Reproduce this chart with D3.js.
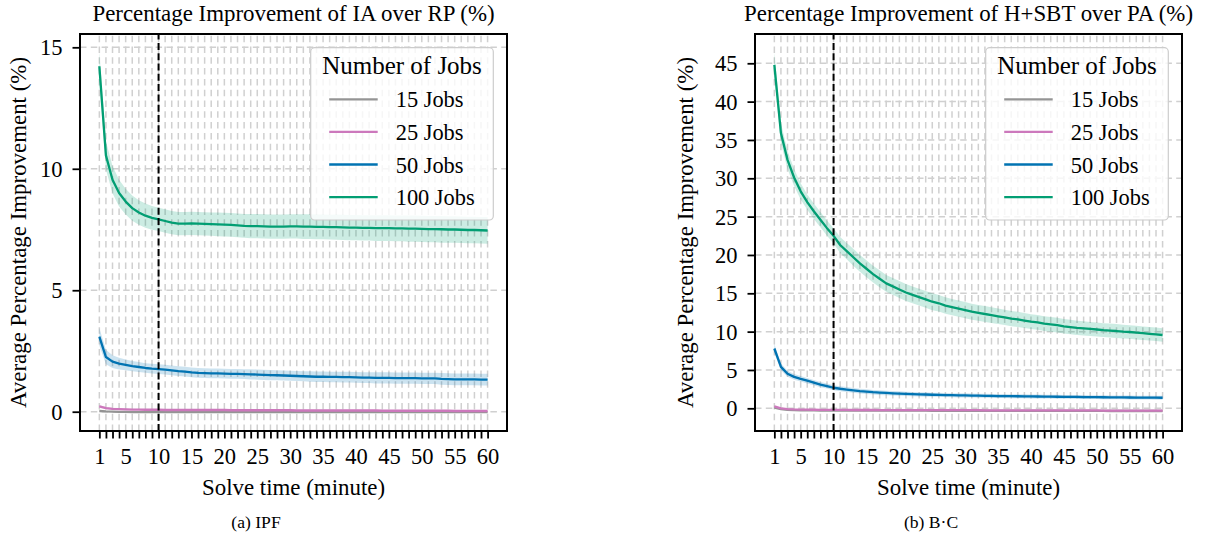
<!DOCTYPE html>
<html>
<head>
<meta charset="utf-8">
<script src="https://cdn.jsdelivr.net/npm/d3@7"></script>
<style>
  html, body { margin: 0; padding: 0; background: #ffffff; }
  svg { display: block; }
  text { font-family: "Liberation Serif", "Times New Roman", Times, serif; fill: #000; }
</style>
</head>
<body>
<svg id="chart" width="1211" height="539"></svg>
<script>
// ---------------- data ----------------
const minutes = [1,2,3,4,5,6,7,8,9,10,11,12,13,14,15,16,17,18,19,20,
  21,22,23,24,25,26,27,28,29,30,31,32,33,34,35,36,37,38,39,40,
  41,42,43,44,45,46,47,48,49,50,51,52,53,54,55,56,57,58,59,60];
const xTickLabels = ["1","5","10","15","20","25","30","35","40","45","50","55","60"];
const xTickValues = [1,5,10,15,20,25,30,35,40,45,50,55,60];
const yTicksIPF = [0,5,10,15];
const yTicksBC = [0,5,10,15,20,25,30,35,40,45];
const jobLabels = ["15 Jobs","25 Jobs","50 Jobs","100 Jobs"];
const cutoffMinute = 10;

// (a) IPF: IA over RP
const ipf15 = [0.03,0.01,0.00,-0.01,-0.01,-0.02,-0.02,-0.02,-0.02,-0.02,
  -0.02,-0.02,-0.02,-0.02,-0.02,-0.02,-0.02,-0.02,-0.02,-0.02,
  -0.02,-0.02,-0.02,-0.02,-0.02,-0.02,-0.02,-0.02,-0.02,-0.02,
  -0.02,-0.02,-0.02,-0.02,-0.02,-0.02,-0.02,-0.02,-0.02,-0.02,
  -0.02,-0.02,-0.02,-0.02,-0.02,-0.02,-0.02,-0.02,-0.02,-0.02,
  -0.02,-0.02,-0.02,-0.02,-0.02,-0.02,-0.02,-0.02,-0.02,-0.02];
const ipf15Band = [0.03,0.02,0.02,0.02,0.02,0.02,0.02,0.02,0.02,0.02,
  0.02,0.02,0.02,0.02,0.02,0.02,0.02,0.02,0.02,0.02,
  0.02,0.02,0.02,0.02,0.02,0.02,0.02,0.02,0.02,0.02,
  0.02,0.02,0.02,0.02,0.02,0.02,0.02,0.02,0.02,0.02,
  0.02,0.02,0.02,0.02,0.02,0.02,0.02,0.02,0.02,0.02,
  0.02,0.02,0.02,0.02,0.02,0.02,0.02,0.02,0.02,0.02];
const ipf25 = [0.22,0.15,0.12,0.11,0.10,0.09,0.09,0.08,0.08,0.08,
  0.07,0.07,0.07,0.07,0.07,0.07,0.07,0.07,0.07,0.07,
  0.06,0.06,0.06,0.06,0.06,0.06,0.06,0.06,0.06,0.06,
  0.05,0.05,0.05,0.05,0.05,0.05,0.05,0.05,0.05,0.05,
  0.05,0.05,0.05,0.04,0.04,0.04,0.04,0.04,0.04,0.04,
  0.04,0.04,0.04,0.04,0.03,0.03,0.03,0.03,0.03,0.03];
const ipf25Band = [0.06,0.05,0.04,0.04,0.04,0.03,0.03,0.03,0.03,0.03,
  0.03,0.03,0.03,0.03,0.03,0.03,0.03,0.03,0.03,0.03,
  0.03,0.03,0.03,0.03,0.03,0.03,0.03,0.03,0.03,0.03,
  0.03,0.03,0.03,0.03,0.03,0.03,0.03,0.03,0.03,0.03,
  0.03,0.03,0.03,0.03,0.03,0.03,0.03,0.03,0.03,0.03,
  0.03,0.03,0.03,0.03,0.03,0.03,0.03,0.03,0.03,0.03];
const ipf50 = [3.09,2.25,2.06,1.98,1.93,1.88,1.84,1.80,1.77,1.75,
  1.73,1.70,1.67,1.65,1.62,1.60,1.59,1.58,1.58,1.57,
  1.56,1.56,1.55,1.54,1.53,1.52,1.51,1.50,1.49,1.48,
  1.47,1.46,1.45,1.44,1.44,1.43,1.43,1.42,1.42,1.41,
  1.40,1.40,1.39,1.39,1.39,1.38,1.38,1.38,1.38,1.37,
  1.37,1.37,1.35,1.34,1.33,1.33,1.33,1.33,1.32,1.32];
const ipf50Band = [0.36,0.30,0.26,0.24,0.22,0.21,0.21,0.20,0.20,0.20,
  0.20,0.20,0.20,0.20,0.20,0.20,0.20,0.20,0.20,0.20,
  0.20,0.20,0.20,0.21,0.21,0.21,0.21,0.21,0.21,0.21,
  0.21,0.21,0.22,0.22,0.22,0.22,0.22,0.22,0.22,0.22,
  0.22,0.22,0.23,0.23,0.23,0.23,0.23,0.23,0.23,0.23,
  0.23,0.23,0.24,0.24,0.24,0.24,0.24,0.24,0.24,0.24];
const ipf100 = [14.22,10.55,9.55,9.00,8.65,8.38,8.20,8.07,7.98,7.92,
  7.85,7.78,7.74,7.74,7.75,7.74,7.73,7.72,7.71,7.70,
  7.69,7.67,7.65,7.64,7.64,7.63,7.62,7.62,7.62,7.63,
  7.63,7.62,7.62,7.61,7.61,7.60,7.60,7.59,7.58,7.58,
  7.57,7.57,7.56,7.56,7.56,7.55,7.55,7.54,7.54,7.53,
  7.52,7.52,7.51,7.50,7.50,7.49,7.48,7.48,7.47,7.46];
const ipf100Band = [0.60,0.58,0.56,0.55,0.53,0.52,0.50,0.50,0.49,0.48,
  0.48,0.48,0.48,0.48,0.48,0.48,0.48,0.48,0.49,0.49,
  0.49,0.49,0.49,0.50,0.50,0.50,0.50,0.50,0.50,0.50,
  0.50,0.51,0.51,0.51,0.51,0.51,0.52,0.52,0.52,0.52,
  0.52,0.52,0.53,0.53,0.53,0.53,0.53,0.54,0.54,0.54,
  0.54,0.54,0.55,0.55,0.55,0.55,0.55,0.55,0.55,0.55];

// (b) B-C: H+SBT over PA
const bc15 = [0.10,-0.10,-0.20,-0.25,-0.27,-0.28,-0.28,-0.29,-0.29,-0.30,
  -0.30,-0.30,-0.30,-0.30,-0.30,-0.30,-0.31,-0.31,-0.31,-0.31,
  -0.31,-0.31,-0.31,-0.31,-0.32,-0.32,-0.32,-0.32,-0.32,-0.32,
  -0.32,-0.32,-0.32,-0.33,-0.33,-0.33,-0.33,-0.33,-0.33,-0.33,
  -0.33,-0.33,-0.34,-0.34,-0.34,-0.34,-0.34,-0.34,-0.34,-0.34,
  -0.34,-0.35,-0.35,-0.35,-0.35,-0.35,-0.35,-0.35,-0.35,-0.35];
const bc15Band = [0.10,0.08,0.07,0.06,0.06,0.06,0.06,0.06,0.06,0.06,
  0.06,0.06,0.06,0.06,0.06,0.06,0.06,0.06,0.06,0.06,
  0.06,0.06,0.06,0.06,0.06,0.06,0.06,0.06,0.06,0.06,
  0.06,0.06,0.06,0.06,0.06,0.06,0.06,0.06,0.06,0.06,
  0.06,0.06,0.06,0.06,0.06,0.06,0.06,0.06,0.06,0.06,
  0.06,0.06,0.06,0.06,0.06,0.06,0.06,0.06,0.06,0.06];
const bc25 = [0.25,0.00,-0.10,-0.15,-0.17,-0.18,-0.19,-0.20,-0.20,-0.21,
  -0.21,-0.21,-0.22,-0.22,-0.22,-0.22,-0.23,-0.23,-0.23,-0.23,
  -0.23,-0.24,-0.24,-0.24,-0.24,-0.24,-0.25,-0.25,-0.25,-0.25,
  -0.25,-0.25,-0.26,-0.26,-0.26,-0.26,-0.26,-0.26,-0.27,-0.27,
  -0.27,-0.27,-0.27,-0.27,-0.28,-0.28,-0.28,-0.28,-0.28,-0.28,
  -0.29,-0.29,-0.29,-0.29,-0.29,-0.29,-0.30,-0.30,-0.30,-0.30];
const bc25Band = [0.12,0.09,0.08,0.07,0.07,0.07,0.07,0.07,0.07,0.07,
  0.07,0.07,0.07,0.07,0.07,0.07,0.07,0.07,0.07,0.07,
  0.07,0.07,0.07,0.07,0.07,0.07,0.07,0.07,0.07,0.07,
  0.07,0.07,0.07,0.07,0.07,0.07,0.07,0.07,0.07,0.07,
  0.07,0.07,0.07,0.07,0.07,0.07,0.07,0.07,0.07,0.07,
  0.07,0.07,0.07,0.07,0.07,0.07,0.07,0.07,0.07,0.07];
const bc50 = [7.80,5.40,4.50,4.10,3.85,3.60,3.35,3.10,2.90,2.68,
  2.55,2.45,2.35,2.25,2.18,2.10,2.05,2.00,1.96,1.92,
  1.89,1.86,1.83,1.80,1.77,1.75,1.73,1.71,1.69,1.68,
  1.66,1.65,1.63,1.62,1.60,1.59,1.58,1.57,1.56,1.55,
  1.54,1.53,1.52,1.51,1.50,1.49,1.48,1.47,1.46,1.45,
  1.44,1.43,1.42,1.42,1.41,1.40,1.39,1.39,1.38,1.38];
const bc50Band = [0.60,0.45,0.40,0.37,0.35,0.35,0.34,0.34,0.33,0.33,
  0.32,0.32,0.31,0.31,0.30,0.30,0.30,0.29,0.29,0.29,
  0.28,0.28,0.28,0.28,0.27,0.27,0.27,0.27,0.27,0.27,
  0.26,0.26,0.26,0.26,0.26,0.26,0.26,0.26,0.26,0.26,
  0.25,0.25,0.25,0.25,0.25,0.25,0.25,0.25,0.25,0.25,
  0.25,0.25,0.25,0.25,0.25,0.25,0.25,0.25,0.25,0.25];
const bc100 = [44.80,35.90,32.40,30.10,28.30,26.90,25.70,24.60,23.50,22.50,
  21.30,20.50,19.70,18.90,18.20,17.50,16.90,16.30,15.90,15.50,
  15.10,14.80,14.50,14.20,13.90,13.70,13.40,13.20,13.00,12.80,
  12.60,12.45,12.30,12.15,12.00,11.85,11.70,11.60,11.45,11.30,
  11.20,11.05,10.95,10.85,10.70,10.60,10.50,10.42,10.35,10.28,
  10.20,10.14,10.08,10.00,9.95,9.88,9.80,9.72,9.65,9.56];
const bc100Band = [1.60,1.30,1.20,1.10,1.05,1.00,1.00,1.00,1.00,1.00,
  1.05,1.05,1.10,1.10,1.10,1.10,1.10,1.10,1.10,1.10,
  1.10,1.10,1.10,1.10,1.10,1.08,1.08,1.06,1.06,1.05,
  1.05,1.04,1.03,1.02,1.01,1.00,1.00,0.99,0.98,0.97,
  0.97,0.96,0.95,0.95,0.94,0.94,0.93,0.93,0.92,0.92,
  0.91,0.91,0.90,0.90,0.89,0.89,0.88,0.88,0.88,0.87];

// ---------------- drawing ----------------
const palette = ["#949494", "#cc78bc", "#0173b2", "#029e73"];
const svg = d3.select("#chart");
const FONT_TICK = 22.5, FONT_LABEL = 22.9;

function drawPanel(p) {
  const x = d3.scaleLinear().domain([-1.94, 62.95]).range([p.left, p.right]);
  const y = d3.scaleLinear().domain(p.yDomain).range([p.bottom, p.top]);
  const g = svg.append("g");

  // grid: vertical at every minute, horizontal at major y ticks
  const grid = g.append("g");
  grid.selectAll("line.vg").data(minutes).join("line")
    .attr("x1", d => x(d)).attr("x2", d => x(d))
    .attr("y1", p.bottom).attr("y2", p.top)
    .attr("stroke", "#d0d0d0").attr("stroke-width", 1.5)
    .attr("stroke-dasharray", "6.5,4.3");
  grid.selectAll("line.hg").data(p.yTicks).join("line")
    .attr("x1", p.left).attr("x2", p.right)
    .attr("y1", d => y(d)).attr("y2", d => y(d))
    .attr("stroke", "#d0d0d0").attr("stroke-width", 1.5)
    .attr("stroke-dasharray", "6.5,4.3");

  // bands
  const area = (vals, band) => d3.area()
    .x((d, i) => x(minutes[i]))
    .y0((d, i) => y(vals[i] - band[i]))
    .y1((d, i) => y(vals[i] + band[i]))(vals);
  p.series.forEach((s, k) => {
    g.append("path").attr("d", area(s.values, s.band))
      .attr("fill", palette[k]).attr("fill-opacity", 0.2).attr("stroke", "none");
  });
  // lines
  const line = d3.line().x((d, i) => x(minutes[i])).y(d => y(d));
  p.series.forEach((s, k) => {
    g.append("path").attr("d", line(s.values))
      .attr("fill", "none").attr("stroke", palette[k]).attr("stroke-width", 2.3)
      .attr("stroke-linejoin", "round").attr("stroke-linecap", "butt");
  });

  // cutoff line
  g.append("line")
    .attr("x1", x(cutoffMinute)).attr("x2", x(cutoffMinute))
    .attr("y1", p.bottom).attr("y2", p.top)
    .attr("stroke", "#000").attr("stroke-width", 2)
    .attr("stroke-dasharray", "7,3.3");

  // axes
  const xAxis = d3.axisBottom(x).tickValues(minutes).tickSize(7.5).tickPadding(3)
    .tickFormat(d => { const i = xTickValues.indexOf(d); return i >= 0 ? xTickLabels[i] : ""; });
  const gx = g.append("g").attr("transform", `translate(0,${p.bottom})`).call(xAxis);
  gx.select(".domain").remove();
  gx.selectAll(".tick line").attr("stroke", "#000").attr("stroke-width", 1.8);
  gx.selectAll(".tick text").attr("font-size", FONT_TICK)
    .attr("font-family", "Liberation Serif, Times New Roman, serif")
    .attr("y", 0).attr("dy", 0).attr("transform", `translate(0,${464 - p.bottom})`);

  const yAxis = d3.axisLeft(y).tickValues(p.yTicks).tickSize(7.5).tickPadding(10)
    .tickFormat(d3.format("d"));
  const gy = g.append("g").attr("transform", `translate(${p.left},0)`).call(yAxis);
  gy.select(".domain").remove();
  gy.selectAll(".tick line").attr("stroke", "#000").attr("stroke-width", 1.8);
  gy.selectAll(".tick text").attr("font-size", FONT_TICK)
    .attr("font-family", "Liberation Serif, Times New Roman, serif")
    .attr("dy", "0.34em");

  // frame
  g.append("rect").attr("x", p.left).attr("y", p.top)
    .attr("width", p.right - p.left).attr("height", p.bottom - p.top)
    .attr("fill", "none").attr("stroke", "#000").attr("stroke-width", 2);

  // legend
  const lg = g.append("g");
  const lx0 = p.right - 13.7 - 182.6, ly0 = p.top + 13.7;
  lg.append("rect").attr("x", lx0).attr("y", ly0).attr("width", 182.6).attr("height", 172.3)
    .attr("rx", 4).attr("ry", 4)
    .attr("fill", "#fff").attr("fill-opacity", 0.8)
    .attr("stroke", "#cccccc").attr("stroke-width", 1.2);
  lg.append("text").attr("x", lx0 + 91.3).attr("y", ly0 + 26.6)
    .attr("text-anchor", "middle").attr("font-size", 25).text("Number of Jobs");
  jobLabels.forEach((lab, k) => {
    const yy = ly0 + 51.6 + k * 32.6;
    lg.append("line").attr("x1", lx0 + 18.5).attr("x2", lx0 + 67)
      .attr("y1", yy).attr("y2", yy)
      .attr("stroke", palette[k]).attr("stroke-width", 2.3);
    lg.append("text").attr("x", lx0 + 85).attr("y", yy + 8)
      .attr("font-size", 22.4).text(lab);
  });

  // titles and labels
  const cx = (p.left + p.right) / 2, cy = (p.top + p.bottom) / 2;
  g.append("text").attr("x", cx).attr("y", 21).attr("text-anchor", "middle")
    .attr("font-size", FONT_LABEL).text(p.title);
  g.append("text").attr("x", cx).attr("y", 495).attr("text-anchor", "middle")
    .attr("font-size", FONT_LABEL).text("Solve time (minute)");
  g.append("text").attr("transform", `translate(${p.yLabelX},${cy}) rotate(-90)`)
    .attr("text-anchor", "middle").attr("font-size", FONT_LABEL)
    .text("Average Percentage Improvement (%)");
  g.append("text").attr("x", p.captionX).attr("y", 527.7).attr("text-anchor", "middle")
    .attr("font-size", 17.6).text(p.caption);
}

drawPanel({
  left: 80, right: 507, top: 34, bottom: 431,
  yDomain: [-0.794, 15.548], yTicks: yTicksIPF,
  title: "Percentage Improvement of IA over RP (%)",
  caption: "(a) IPF", captionX: 256, yLabelX: 26,
  series: [
    { values: ipf15, band: ipf15Band },
    { values: ipf25, band: ipf25Band },
    { values: ipf50, band: ipf50Band },
    { values: ipf100, band: ipf100Band }
  ]
});
drawPanel({
  left: 755, right: 1182, top: 34, bottom: 431,
  yDomain: [-2.96, 48.82], yTicks: yTicksBC,
  title: "Percentage Improvement of H+SBT over PA (%)",
  caption: "(b) B\u00B7C", captionX: 931, yLabelX: 693,
  series: [
    { values: bc15, band: bc15Band },
    { values: bc25, band: bc25Band },
    { values: bc50, band: bc50Band },
    { values: bc100, band: bc100Band }
  ]
});
</script>
</body>
</html>
